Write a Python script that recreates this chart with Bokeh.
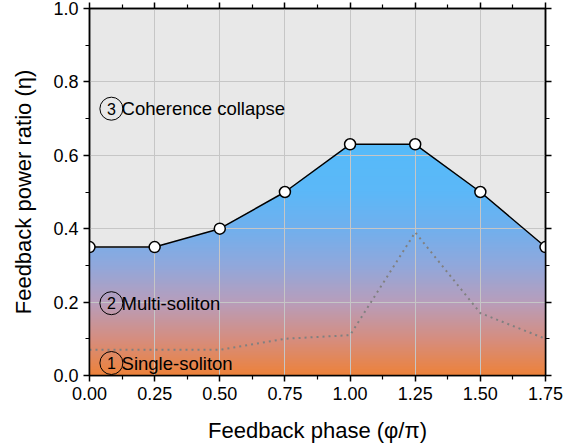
import numpy as np
from bokeh.plotting import figure
from bokeh.models import (Range1d, LinearAxis, FixedTicker, NumeralTickFormatter,
                          CustomJSTickFormatter)
from bokeh.core.properties import value
from bokeh.embed import file_html
from bokeh.resources import INLINE

# Feedback phase (in units of pi) and the measured regime boundaries
phase = [0.0, 0.25, 0.5, 0.75, 1.0, 1.25, 1.5, 1.75]
eta_collapse = [0.35, 0.35, 0.40, 0.50, 0.63, 0.63, 0.50, 0.35]   # coherence-collapse threshold
eta_multi = [0.07, 0.07, 0.07, 0.10, 0.11, 0.39, 0.17, 0.10]      # single -> multi soliton

x_ticks = [0.0, 0.25, 0.5, 0.75, 1.0, 1.25, 1.5, 1.75]
y_ticks = [0.0, 0.2, 0.4, 0.6, 0.8, 1.0]

region_numbers = ["1", "2", "3"]
region_names = ["Single-soliton", "Multi-soliton", "Coherence collapse"]
region_eta = [0.034, 0.197, 0.727]

FONT = "Liberation Sans"
X_MAX, Y_MAX = x_ticks[-1], y_ticks[-1]

p = figure(width=565, height=448,
           x_range=Range1d(0, X_MAX), y_range=Range1d(0, Y_MAX),
           output_backend="svg", toolbar_location=None,
           min_border_left=89, min_border_right=20,
           min_border_top=8, min_border_bottom=73,
           background_fill_color="#e8e8e8", border_fill_color="white",
           outline_line_color="black", outline_line_width=1.5)

# vertical colour gradient (orange at the bottom, blue towards the top),
# shown only below the coherence-collapse boundary
stops_y = [0.0, 0.1, 0.2, 0.3, 0.4, 0.5, 0.63, 1.0]
stops_r = [238, 214, 184, 145, 113, 92, 86, 86]
stops_g = [130, 142, 158, 168, 176, 184, 187, 187]
stops_b = [58, 128, 188, 220, 238, 248, 250, 250]

nx, ny = 900, 600
dx, dy = X_MAX / nx, Y_MAX / ny
xs = (np.arange(nx) + 0.5) * dx
ys = (np.arange(ny) + 0.5) * dy
boundary = np.interp(xs, phase, eta_collapse)
alpha = np.clip((boundary[None, :] - ys[:, None]) / dy + 0.5, 0, 1)

img = np.zeros((ny, nx, 4), dtype=np.uint8)
img[..., 0] = np.interp(ys, stops_y, stops_r)[:, None]
img[..., 1] = np.interp(ys, stops_y, stops_g)[:, None]
img[..., 2] = np.interp(ys, stops_y, stops_b)[:, None]
img[..., 3] = (alpha * 255).astype(np.uint8)
p.image_rgba(image=[img.view(np.uint32).reshape(ny, nx)],
             x=0, y=0, dw=X_MAX, dh=Y_MAX, level="image")

# ticks and grid
x_minor = [(a + b) / 2 for a, b in zip(x_ticks[:-1], x_ticks[1:])]
y_minor = [(a + b) / 2 for a, b in zip(y_ticks[:-1], y_ticks[1:])]
xt = FixedTicker(ticks=x_ticks, minor_ticks=x_minor)
yt = FixedTicker(ticks=y_ticks, minor_ticks=y_minor)

p.xgrid.ticker = xt
p.ygrid.ticker = yt
for g in (p.xgrid, p.ygrid):
    g.grid_line_color = "#c6c6c6"
    g.grid_line_width = 1


def style_axis(ax):
    ax.axis_line_color = "black"
    ax.axis_line_width = 1.5
    ax.major_tick_line_color = "black"
    ax.major_tick_line_width = 1.5
    ax.major_tick_in = 0
    ax.major_tick_out = 6
    ax.minor_tick_line_color = "black"
    ax.minor_tick_line_width = 1.2
    ax.minor_tick_in = 0
    ax.minor_tick_out = 4
    ax.major_label_text_font = FONT
    ax.major_label_text_font_size = "18px"
    ax.major_label_text_color = "black"
    ax.axis_label_text_font = FONT
    ax.axis_label_text_font_size = "22px"
    ax.axis_label_text_font_style = "normal"
    ax.axis_label_text_color = "black"


xa = p.xaxis[0]
xa.ticker = xt
xa.formatter = NumeralTickFormatter(format="0.00")
xa.axis_label = "Feedback phase (φ/π)"
style_axis(xa)
xa.axis_label_standoff = 15

ya = p.yaxis[0]
ya.ticker = yt
ya.formatter = NumeralTickFormatter(format="0.0")
ya.axis_label = "Feedback power ratio (η)"
style_axis(ya)
ya.axis_label_standoff = 14

# mirrored tick marks on the top and right edges, without labels
for loc, tk in (("above", xt), ("right", yt)):
    ax = LinearAxis(ticker=tk, formatter=CustomJSTickFormatter(code="return ''"))
    style_axis(ax)
    ax.major_label_standoff = 0
    p.add_layout(ax, loc)

# regime boundaries
p.line(phase, eta_multi, line_color="#808080", line_width=2, line_dash="2 4")
p.line(phase, eta_collapse, line_color="black", line_width=1.5)
p.scatter(phase, eta_collapse, size=11, fill_color="white",
          line_color="black", line_width=1.5)

# regime labels with circled numbers
lab_x = [0.084] * len(region_eta)
p.scatter(lab_x, region_eta, size=23, fill_color=None,
          line_color="black", line_width=1)
p.text(lab_x, region_eta, text=region_numbers, text_align="center",
       text_baseline="middle", text_font=value(FONT),
       text_font_size="16px", text_color="black")
p.text([0.123] * len(region_eta), region_eta, text=region_names,
       text_align="left", text_baseline="middle", text_font=value(FONT),
       text_font_size="18.5px", text_color="black")

open("out.html", "w").write(file_html(p, INLINE))
